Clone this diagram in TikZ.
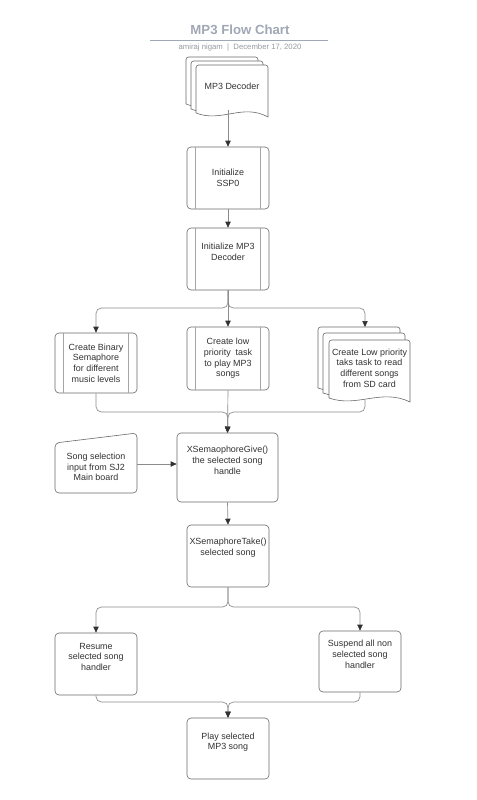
\documentclass[tikz,border=0pt]{standalone}
\usepackage{fontspec}
\setmainfont{Liberation Sans}
\usetikzlibrary{arrows.meta}
\definecolor{titlegray}{RGB}{160,168,181}
\definecolor{subgray}{RGB}{150,155,162}
\definecolor{shapeline}{RGB}{105,105,105}
\definecolor{innerline}{RGB}{165,165,165}
\definecolor{connline}{RGB}{140,140,140}
\definecolor{tipcol}{RGB}{50,50,50}
\definecolor{txt}{RGB}{50,50,50}
\newcommand{\docpage}[4]{%
  \filldraw[pageline] (#1,#4-4) [rounded corners=2pt] -- (#1,#2) -- (#3,#2) [sharp corners] -- (#3,#4)
    .. controls ({#3-0.35*(#3-#1)},#4-14) and ({#1+0.35*(#3-#1)},#4+6) .. (#1,#4-4) -- cycle;}
\begin{document}
\begin{tikzpicture}[x=0.75pt,y=-0.75pt,
  boxst/.style={draw=shapeline, line width=0.45pt, rounded corners=3pt, fill=white,
    align=center, font=\fontsize{6.7}{8}\selectfont, text=txt, inner sep=0pt,
    minimum width=61.5pt, minimum height=46.5pt},
  plain/.style={align=center, font=\fontsize{6.7}{8}\selectfont, text=txt, inner sep=0pt},
  pageline/.style={draw=shapeline, fill=white, line width=0.45pt},
  inner/.style={draw=innerline, line width=0.4pt},
  conn/.style={draw=connline, line width=0.5pt, rounded corners=4pt},
  arr/.style={-{Triangle[length=4.5pt,width=4pt,color=tipcol]}}]
\useasboundingbox (0,0) rectangle (476,800);
\fill[white] (0,0) rectangle (476,800);

% title
\node[font=\bfseries\fontsize{9.9}{11}\selectfont, text=titlegray] (title) at (240,30) {MP3 Flow Chart};
\draw[titlegray, line width=0.6pt] (150,40) -- (328,40);
\node[font=\fontsize{5.8}{7}\selectfont, text=subgray] (sub) at (240,48) {amiraj nigam~~|~~December 17, 2020};

% MP3 Decoder (multi-document)
\docpage{186}{57}{258}{108}
\docpage{191}{61}{263}{113}
\docpage{196}{65}{268}{117}
\node[plain, minimum width=54pt, minimum height=36pt] (dec) at (232,86) {MP3 Decoder};

% Initialize SSP0
\node[boxst] (ssp) at (228,178) {Initialize\\SSP0};
\draw[inner] ([xshift=6.75pt]ssp.north west) -- ([xshift=6.75pt]ssp.south west)
  ([xshift=-6.75pt]ssp.north east) -- ([xshift=-6.75pt]ssp.south east);

% Initialize MP3 Decoder
\node[boxst] (mp3) at (228,259) {Initialize MP3\\Decoder\\[3pt]};
\draw[inner] ([xshift=6.75pt]mp3.north west) -- ([xshift=6.75pt]mp3.south west)
  ([xshift=-6.75pt]mp3.north east) -- ([xshift=-6.75pt]mp3.south east);

% Create Binary Semaphore
\node[boxst, minimum height=45pt] (bin) at (96,363) {Create Binary\\Semaphore\\for different\\music levels};
\draw[inner] ([xshift=6.75pt]bin.north west) -- ([xshift=6.75pt]bin.south west)
  ([xshift=-6.75pt]bin.north east) -- ([xshift=-6.75pt]bin.south east);

% Create low priority task
\node[boxst, minimum height=47.25pt] (low) at (228,358.5) {Create low\\priority\ \ task\\to play MP3\\songs};
\draw[inner] ([xshift=6.75pt]low.north west) -- ([xshift=6.75pt]low.south west)
  ([xshift=-6.75pt]low.north east) -- ([xshift=-6.75pt]low.south east);

% Create Low priority taks task (multi-document)
\docpage{318}{327}{400}{392}
\docpage{323}{333}{405}{397}
\docpage{329}{340}{410}{402}
\node[plain, minimum width=60pt, minimum height=40pt] (sd) at (369.5,368) {Create Low priority\\taks task to read\\different songs\\from SD card};
\coordinate (sdtop) at (365,327);
\coordinate (sdbot) at (365,400);

% Song selection input (manual input)
\draw[pageline, rounded corners=3pt] (55,443) -- (137,433) -- (137,493) -- (55,493) -- cycle;
\node[plain, minimum width=61.5pt] (song) at (96,467) {Song selection\\input from SJ2\\Main board};
\coordinate (songr) at (137,464);

% XSemaophoreGive
\node[boxst, minimum width=75.75pt, minimum height=51.75pt] (give) at (227.5,467.5) {XSemaophoreGive()\\the selected song\\handle\\[3pt]};

% XSemaphoreTake
\node[boxst] (take) at (228,556) {XSemaphoreTake()\\selected song\\[6pt]};

% Resume / Suspend
\node[boxst] (res) at (96,664) {Resume\\selected song\\handler\\[3pt]};
\node[boxst, minimum height=45.75pt] (sus) at (360,661.5) {Suspend all non\\selected song\\handler\\[3pt]};

% Play
\node[boxst, minimum height=45.75pt] (play) at (228,748.5) {Play selected\\MP3 song\\[3pt]};

% connectors
\coordinate (b1) at (228,308);
\coordinate (m1) at (228,412);
\coordinate (b2) at (228,607);
\coordinate (m3) at (228,702);

\draw[conn, arr] (ssp.north |- dec.south) -- (ssp.north);
\draw[conn, arr] (ssp.south) -- (mp3.north);
\draw[conn, arr] (mp3.south) -- (b1) -| (bin.north);
\draw[conn, arr] (mp3.south) -- (b1) -| (sdtop);
\draw[conn, arr] (mp3.south) -- (low.north);
\draw[conn, arr] (bin.south) |- (m1) -- (give.north);
\draw[conn, arr] (sdbot) |- (m1) -- (give.north);
\draw[conn, arr] (low.south) -- (give.north);
\draw[conn, arr] (songr) -- (songr -| give.west);
\draw[conn, arr] (give.south) -- (take.north);
\draw[conn, arr] (take.south) -- (b2) -| (res.north);
\draw[conn, arr] (take.south) -- (b2) -| (sus.north);
\draw[conn, arr] (res.south) |- (m3) -- (play.north);
\draw[conn, arr] (sus.south) |- (m3) -- (play.north);
\end{tikzpicture}
\end{document}
